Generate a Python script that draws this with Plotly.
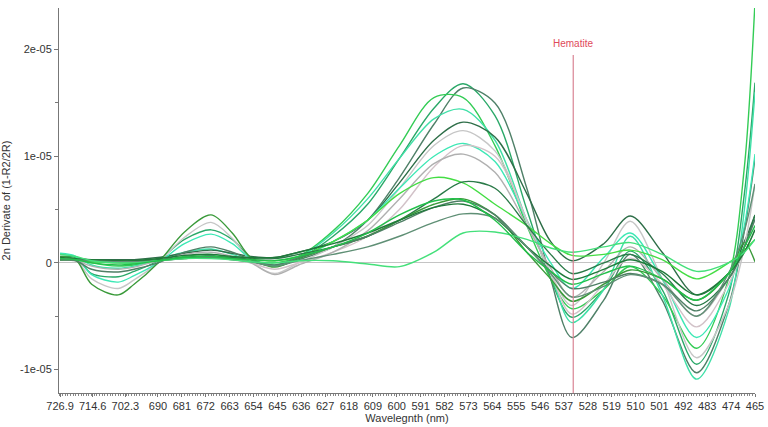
import numpy as np
import plotly.graph_objects as go

# x-axis tick labels (nm)
tick_wl = [726.9, 714.6, 702.3, 690, 681, 672, 663, 654, 645, 636, 627, 618, 609, 600,
           591, 582, 573, 564, 555, 546, 537, 528, 519, 510, 501, 492, 483, 474, 465]
tick_text = ["726.9", "714.6", "702.3"] + [str(int(v)) for v in tick_wl[3:]]

# sample wavelengths (nm)
wl = [726.9, 721, 715, 705, 699, 690, 680, 670, 662, 655, 646, 637, 624, 611, 599,
      586, 575, 563, 551, 542, 534, 522, 512, 500, 487, 475, 469, 465]

# spectra (units of 1e-6)
s01 = [0.6, 0.5, -1.0, -1.3, -0.8, 0.2, 2.2, 3.1, 2.2, 0.5, -0.3, 0.4, 2.5, 5.5, 9.8, 14.5, 16.8, 13.8, 5.0, -1.5, -5.1, -2.5, 1.1, -2.5, -9.5, -3.0, 6.5, 16.9]
s02 = [0.3, 0.3, 0.2, 0.0, 0.0, 0.2, 0.5, 0.7, 0.4, 0.1, -0.3, 0.3, 1.5, 4.0, 8.0, 13.0, 16.4, 15.0, 7.0, -1.5, -7.0, -3.5, 0.8, -3.5, -10.3, -4.0, 3.0, 9.8]
s03 = [0.5, 0.4, 0.0, -0.3, -0.2, 0.2, 0.6, 0.8, 0.5, 0.2, 0.0, 0.6, 3.0, 6.5, 11.0, 15.5, 15.5, 11.0, 3.5, -1.5, -4.3, -2.5, -0.35, -3.0, -8.0, -1.5, 9.0, 24.5]
s04 = [0.8, 0.6, -0.2, -0.5, -0.3, 0.3, 1.0, 1.3, 0.8, 0.2, -0.2, 0.5, 2.8, 6.0, 9.8, 13.5, 14.4, 11.5, 4.0, -1.0, -5.6, -2.5, 2.5, -3.0, -10.9, -4.5, 5.0, 16.0]
s05 = [0.4, 0.4, 0.3, 0.3, 0.3, 0.5, 0.9, 1.2, 0.9, 0.6, 0.5, 1.0, 2.0, 4.0, 7.5, 11.5, 13.2, 11.8, 6.5, 2.0, 0.2, 1.8, 4.4, 1.0, -3.0, -1.0, 2.0, 4.5]
s06 = [0.5, 0.3, -1.5, -2.4, -1.6, 0.0, 2.4, 3.8, 2.3, 0.2, -1.0, 0.0, 1.5, 3.5, 7.0, 11.0, 12.4, 10.5, 4.0, -1.0, -4.0, 0.0, 3.9, -1.5, -8.9, -4.0, 1.5, 7.4]
s07 = [0.9, 0.6, -1.1, -1.8, -1.2, 0.0, 1.8, 2.7, 1.8, 0.4, -0.3, 0.4, 2.0, 4.0, 7.0, 10.0, 11.2, 9.5, 4.0, 0.0, -2.4, 0.5, 2.8, -1.5, -7.0, -2.5, 3.5, 10.2]
s08 = [0.4, 0.3, 0.2, 0.0, 0.0, 0.2, 0.4, 0.5, 0.3, 0.0, -0.6, 0.0, 1.0, 2.5, 5.0, 9.0, 11.0, 10.0, 4.0, -1.0, -4.8, -2.0, 0.45, -2.0, -6.0, -2.0, 1.5, 4.1]
s09 = [0.3, 0.2, -0.3, -0.6, -0.4, 0.2, 0.8, 1.0, 0.6, 0.0, -1.1, -0.2, 1.0, 3.0, 6.0, 9.3, 10.2, 8.5, 3.5, -0.5, -3.2, -0.8, 1.5, -1.5, -5.0, -1.5, 1.0, 3.1]
s10 = [0.3, 0.3, 0.1, 0.0, 0.0, 0.2, 0.4, 0.5, 0.4, 0.3, 0.2, 0.6, 2.0, 4.0, 6.5, 8.0, 7.5, 5.5, 3.5, 1.8, 0.7, 0.8, 1.2, 0.3, -1.5, 0.0, 1.2, 2.2]
s11 = [0.3, 0.3, 0.3, 0.2, 0.2, 0.3, 0.5, 0.6, 0.5, 0.4, 0.4, 0.8, 1.5, 2.5, 4.0, 6.0, 7.6, 7.0, 3.5, 0.8, -1.0, 0.0, 0.8, -1.0, -4.0, -1.5, 1.5, 4.5]
s12 = [0.6, 0.3, -2.0, -3.0, -2.0, 0.0, 2.9, 4.5, 2.8, 0.5, -0.4, 0.4, 1.5, 2.5, 4.0, 5.5, 6.0, 4.5, 1.0, -1.5, -3.6, -2.0, -0.66, -1.5, -3.5, -1.0, 1.9, 0.1]
s13 = [0.3, 0.2, -0.6, -0.85, -0.6, 0.0, 1.0, 1.5, 1.0, 0.3, -0.2, 0.5, 1.5, 2.5, 3.8, 5.2, 5.8, 4.5, 1.5, -0.8, -2.4, -1.8, -1.0, -2.0, -4.5, -1.5, 1.5, 4.1]
s14 = [0.5, 0.4, 0.3, 0.2, 0.2, 0.4, 0.7, 0.8, 0.6, 0.5, 0.5, 1.0, 1.8, 2.8, 4.0, 5.2, 5.5, 4.2, 1.5, -0.3, -1.55, -0.6, 0.3, -0.8, -3.0, -1.0, 1.0, 3.1]
s15 = [0.4, 0.3, 0.2, 0.1, 0.1, 0.2, 0.4, 0.5, 0.3, 0.1, -0.3, 0.2, 0.8, 1.5, 2.5, 3.8, 4.6, 4.2, 1.5, -1.0, -3.2, -2.2, -1.1, -2.0, -5.0, -1.0, 3.0, 7.4]
s16 = [0.8, 0.6, 0.2, 0.0, 0.0, 0.2, 0.4, 0.4, 0.3, 0.1, 0.0, 0.2, 0.2, -0.1, -0.35, 1.0, 2.8, 2.9, 2.2, 1.4, 1.0, 1.5, 1.9, 0.8, -0.8, 0.0, 1.0, 2.2]
s17 = [0.4, 0.3, 0.0, -0.2, -0.1, 0.2, 0.5, 0.6, 0.4, 0.3, 0.2, 0.6, 1.5, 2.8, 4.5, 5.8, 5.9, 4.0, 1.0, -0.8, -2.0, -1.0, -0.3, -1.5, -3.5, -1.0, 1.5, 3.5]

series = [s01, s02, s03, s04, s05, s06, s07, s08, s09, s10, s11, s12, s13, s14, s15, s16, s17]
colors = ["#2aa868", "#4f8068", "#33cc55", "#40e0a8", "#2e6e48", "#c6c6c6", "#3de8b5",
          "#d2c2c8", "#b0b0b0", "#44dd44", "#2a7a48", "#3a9a3a", "#4f7f65", "#1f7a3a",
          "#5f8f75", "#44e07a", "#22c04a"]

hematite_wl = 533.5

fig = go.Figure()
for s, c in zip(series, colors):
    fig.add_trace(go.Scatter(x=wl, y=np.array(s) * 1e-6, mode="lines",
                             line=dict(color=c, width=1.4, shape="spline", smoothing=0.9),
                             showlegend=False, hoverinfo="skip"))

fig.add_shape(type="line", xref="x", yref="paper", x0=hematite_wl, x1=hematite_wl,
              y0=0, y1=0.878, line=dict(color="#d98594", width=1.2))
fig.add_annotation(x=hematite_wl, xref="x", y=0.888, yref="paper", text="Hematite",
                   showarrow=False, yanchor="bottom",
                   font=dict(family="Liberation Sans, Arial", size=10, color="#e04a5a"))

fig.update_layout(
    width=768, height=427,
    margin=dict(l=59, r=13, t=8, b=34, autoexpand=False),
    paper_bgcolor="white", plot_bgcolor="white",
    font=dict(family="Liberation Sans, Arial", size=11, color="#333333"),
)
fig.update_xaxes(
    range=[727.3, 465], tickmode="array", tickvals=tick_wl, ticktext=tick_text,
    tickangle=0, automargin=False,
    showgrid=False, zeroline=False, showline=True, linecolor="#777777", linewidth=1,
    ticks="outside", ticklen=3, tickcolor="#777777", tickfont=dict(size=11, color="#333333"),
    minor=dict(ticks="outside", ticklen=2, tickcolor="#888888", dtick=1, showgrid=False),
    title=dict(text="Wavelegnth (nm)", font=dict(size=11, color="#333333"), standoff=2),
)
fig.update_yaxes(
    range=[-1.22e-5, 2.39e-5], tickvals=[-1e-5, 0, 1e-5, 2e-5],
    ticktext=["-1e-05", "0", "1e-05", "2e-05"], automargin=False,
    showgrid=False, zeroline=True, zerolinecolor="#c4c4c4", zerolinewidth=1,
    showline=True, linecolor="#777777", linewidth=1,
    ticks="outside", ticklen=4, tickcolor="#777777", tickfont=dict(size=11, color="#333333"),
    minor=dict(ticks="outside", ticklen=3, tickcolor="#777777", dtick=5e-6, showgrid=False),
    title=dict(text="2n Derivate of (1-R2/2R)", font=dict(size=11, color="#333333"), standoff=10),
)

fig.write_html("out.html")
